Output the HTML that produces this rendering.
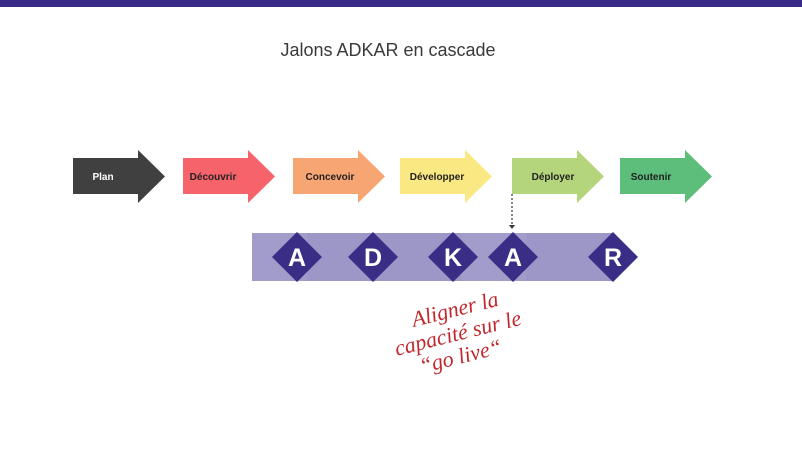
<!DOCTYPE html>
<html><head><meta charset="utf-8"><style>
body{margin:0;width:802px;height:451px;background:#fff;overflow:hidden;position:relative;font-family:"Liberation Sans",sans-serif}
</style></head><body>
<svg width="802" height="451" viewBox="0 0 802 451" xmlns="http://www.w3.org/2000/svg" style="position:absolute;left:0;top:0">
<rect x="0" y="0" width="802" height="7" fill="#3a2a87"/>
<text x="388" y="56" text-anchor="middle" font-family="Liberation Sans, sans-serif" font-size="18" fill="#3a3a3a">Jalons ADKAR en cascade</text>
<g font-family="Liberation Sans, sans-serif" font-size="10" text-anchor="middle" font-weight="bold">
<polygon points="73,158 138,158 138,150 165,176.5 138,203 138,194 73,194" fill="#404040"/>
<text x="103" y="180" fill="#fff">Plan</text>
<polygon points="183,158 248,158 248,150 275,176.5 248,203 248,194 183,194" fill="#f6636b"/>
<text x="213" y="180" fill="#222">Découvrir</text>
<polygon points="293,158 358,158 358,150 385,176.5 358,203 358,194 293,194" fill="#f8a574"/>
<text x="330" y="180" fill="#222">Concevoir</text>
<polygon points="400,158 465,158 465,150 492,176.5 465,203 465,194 400,194" fill="#fae883"/>
<text x="437" y="180" fill="#222">Développer</text>
<polygon points="512,158 577,158 577,150 604,176.5 577,203 577,194 512,194" fill="#b5d57d"/>
<text x="553" y="180" fill="#222">Déployer</text>
<polygon points="620,158 685,158 685,150 712,176.5 685,203 685,194 620,194" fill="#5dbd7b"/>
<text x="651" y="180" fill="#222">Soutenir</text>
</g>
<line x1="512" y1="194" x2="512" y2="225" stroke="#333" stroke-width="1.2" stroke-dasharray="2,2"/>
<polygon points="509,225 515,225 512,229" fill="#333"/>
<g fill="#9d97c8">
<rect x="252" y="233" width="55" height="48" fill="#a29cca"/>
<rect x="307" y="233" width="78" height="48"/>
<rect x="385" y="233" width="76" height="48"/>
<rect x="461" y="233" width="65" height="48" fill="#a29cca"/>
<rect x="526" y="233" width="86" height="48"/>
</g>
<g fill="#392d86">
<polygon points="297,232 322,257 297,282 272,257"/>
<polygon points="373,232 398,257 373,282 348,257"/>
<polygon points="453,232 478,257 453,282 428,257"/>
<polygon points="513,232 538,257 513,282 488,257"/>
<polygon points="613,232 638,257 613,282 588,257"/>
</g>
<g font-family="Liberation Sans, sans-serif" font-size="25" font-weight="bold" fill="#fff" text-anchor="middle">
<text x="297" y="266">A</text><text x="373" y="266">D</text><text x="453" y="266">K</text><text x="513" y="266">A</text><text x="613" y="266">R</text>
</g>
<g transform="rotate(-14 455 330)" font-family="Liberation Serif, serif" font-style="italic" font-size="22" fill="#c0282d" text-anchor="middle">
<text x="460" y="317">Aligner la</text>
<text x="457" y="341">capacité sur le</text>
<text x="454" y="364">“go live“</text>
</g>
</svg>
</body></html>
